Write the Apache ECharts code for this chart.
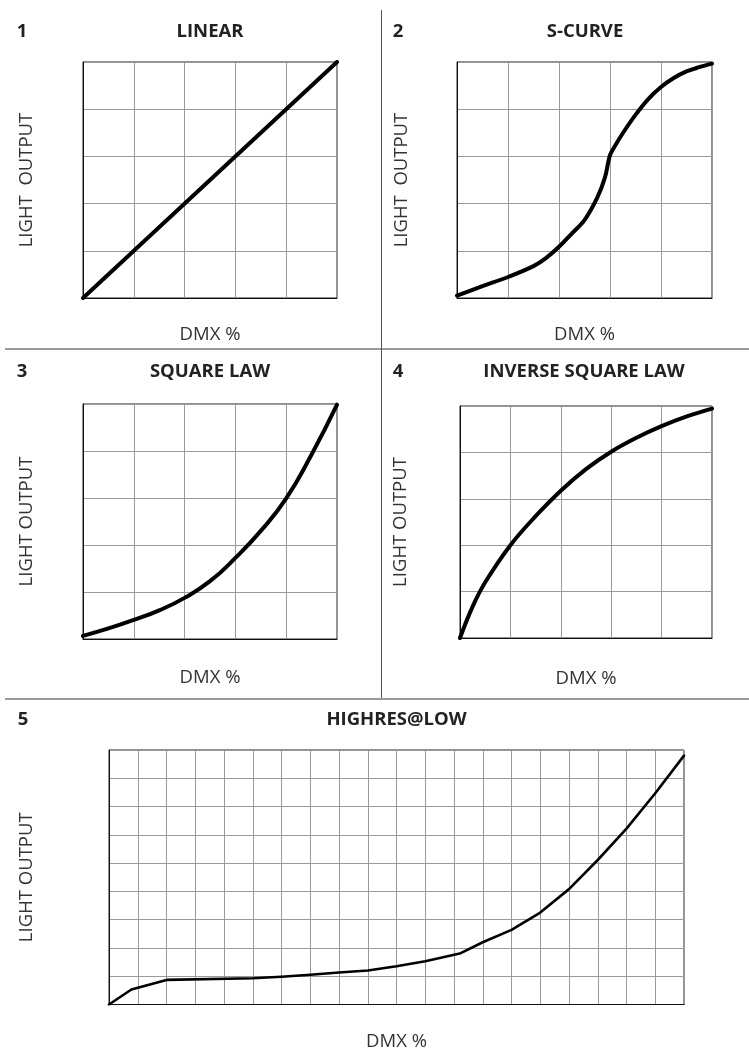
<!DOCTYPE html>
<html><head><meta charset="utf-8">
<script src="https://cdn.jsdelivr.net/npm/echarts@6.0.0/dist/echarts.min.js"></script>
<style>html,body{margin:0;padding:0;background:#fff}#c{width:749px;height:1052px}</style>
</head><body><div id="c"></div><script>
// ---- data (DMX %, light output) ----
const linearDmx = [0, 100];
const linearOut = [0, 100];

const sCurveDmx = [0, 10, 20, 30, 35, 40, 45, 50, 55, 58, 60, 62, 65, 70, 75, 80, 85, 90, 95, 100];
const sCurveOut = [1, 5, 8.9, 13.5, 17, 21.7, 27.3, 33, 42.5, 51, 60.5, 64.5, 69.8, 77.6, 84.3, 89.4, 93.2, 96, 97.8, 99.3];

const squareDmx = [0, 10, 20, 30, 40, 50, 60, 70, 80, 90, 100];
const squareOut = [1.3, 4.5, 8.1, 12.2, 17.5, 24.6, 34.5, 46, 59.8, 78.5, 99.7];

const invSquareDmx = [0, 5, 10, 20, 30, 40, 50, 60, 70, 80, 90, 100];
const invSquareOut = [0, 13.5, 24, 40, 52.5, 63.5, 72.8, 80.3, 86.3, 91.3, 95.5, 98.9];

const highresDmx = [0, 3.9, 10, 25, 30, 35, 40, 45, 50, 55, 61, 65, 70, 75, 80, 85, 90, 95, 100];
const highresOut = [0, 5.3, 8.7, 9.3, 9.8, 10.5, 11.3, 12.0, 13.5, 15.3, 18.0, 22.0, 26.4, 32.5, 40.8, 51.1, 62.2, 74.7, 88.0];

const panelNumbers = ['1', '2', '3', '4', '5'];
const panelTitles = ['LINEAR', 'S-CURVE', 'SQUARE LAW', 'INVERSE SQUARE LAW', 'HIGHRES@LOW'];
const yNames = ['LIGHT  OUTPUT', 'LIGHT  OUTPUT', 'LIGHT OUTPUT', 'LIGHT OUTPUT', 'LIGHT OUTPUT'];
const xName = 'DMX %';

function pairs(xs, ys) { return xs.map((x, i) => [x, ys[i]]); }
const seriesData = [
  pairs(linearDmx, linearOut),
  pairs(sCurveDmx, sCurveOut),
  pairs(squareDmx, squareOut),
  pairs(invSquareDmx, invSquareOut),
  pairs(highresDmx, highresOut)
];

// ---- layout ----
const FONT = '"Open Sans", "Noto Sans", sans-serif';
const FS = 18.5;
const layout = [
  {left: 83,  top: 62,  width: 254, height: 236, numX: 22,  titleX: 210,   titleY: 32,  xGap: 27.5, yGap: 46.5, xMax: 100, xInt: 20, yMax: 100, yInt: 20, lw: 4, smooth: false},
  {left: 457, top: 62,  width: 255, height: 236, numX: 398, titleX: 585,   titleY: 32,  xGap: 27.5, yGap: 45.5, xMax: 100, xInt: 20, yMax: 100, yInt: 20, lw: 4, smooth: 0.35},
  {left: 83,  top: 404, width: 254, height: 235, numX: 22,  titleX: 210,   titleY: 372, xGap: 29.5, yGap: 46.5, xMax: 100, xInt: 20, yMax: 100, yInt: 20, lw: 4, smooth: 0.5},
  {left: 460, top: 406, width: 252, height: 232, numX: 398, titleX: 584,   titleY: 372, xGap: 31.5, yGap: 49.5, xMax: 100, xInt: 20, yMax: 100, yInt: 20, lw: 4, smooth: 0.4},
  {left: 109, top: 750, width: 575, height: 258, numX: 23,  titleX: 396.5, titleY: 720, xGap: 27.5, yGap: 72.5, xMax: 100, xInt: 5,  yMax: 90,  yInt: 10, lw: 2.6, smooth: false}
];

const grids = [], xAxes = [], yAxes = [], series = [], graphics = [];
layout.forEach((p, i) => {
  grids.push({left: p.left, top: p.top, width: p.width, height: p.height,
    show: true, borderColor: '#222', borderWidth: 1, backgroundColor: 'transparent'});
  xAxes.push({type: 'value', gridIndex: i, min: 0, max: p.xMax, interval: p.xInt,
    name: xName, nameLocation: 'middle', nameGap: p.xGap,
    nameTextStyle: {fontFamily: FONT, fontSize: FS, color: '#333'},
    axisLine: {show: true, lineStyle: {color: '#111', width: 1}},
    axisTick: {show: false}, axisLabel: {show: false},
    splitLine: {show: true, lineStyle: {color: '#999', width: 1}}});
  yAxes.push({type: 'value', gridIndex: i, min: 0, max: p.yMax, interval: p.yInt,
    name: yNames[i], nameLocation: 'middle', nameGap: p.yGap, nameRotate: 90,
    nameTextStyle: {fontFamily: FONT, fontSize: FS, color: '#333'},
    axisLine: {show: true, lineStyle: {color: '#111', width: 1}},
    axisTick: {show: false}, axisLabel: {show: false},
    splitLine: {show: true, lineStyle: {color: '#999', width: 1}}});
  series.push({type: 'line', xAxisIndex: i, yAxisIndex: i, data: seriesData[i],
    showSymbol: false, symbol: 'none', silent: true,
    smooth: p.smooth,
    lineStyle: {color: '#000', width: p.lw, cap: 'round', join: 'round'}});
  graphics.push({type: 'text', x: p.numX, y: p.titleY,
    style: {text: panelNumbers[i], font: 'bold ' + FS + 'px ' + FONT, fill: '#222', align: 'center', verticalAlign: 'middle'}});
  graphics.push({type: 'text', x: p.titleX, y: p.titleY,
    style: {text: panelTitles[i], font: 'bold ' + FS + 'px ' + FONT, fill: '#222', align: 'center', verticalAlign: 'middle'}});
});

// separators
graphics.push({type: 'line', shape: {x1: 5, y1: 349, x2: 749, y2: 349}, style: {stroke: '#9a9a9a', lineWidth: 2}});
graphics.push({type: 'line', shape: {x1: 5, y1: 699, x2: 749, y2: 699}, style: {stroke: '#9a9a9a', lineWidth: 2}});
graphics.push({type: 'line', shape: {x1: 381.5, y1: 10, x2: 381.5, y2: 698}, style: {stroke: '#555', lineWidth: 1}});

const chart = echarts.init(document.getElementById('c'), null, {renderer: 'canvas'});
chart.setOption({
  backgroundColor: '#fff',
  animation: false,
  grid: grids, xAxis: xAxes, yAxis: yAxes, series: series,
  graphic: graphics
});
</script></body></html>
